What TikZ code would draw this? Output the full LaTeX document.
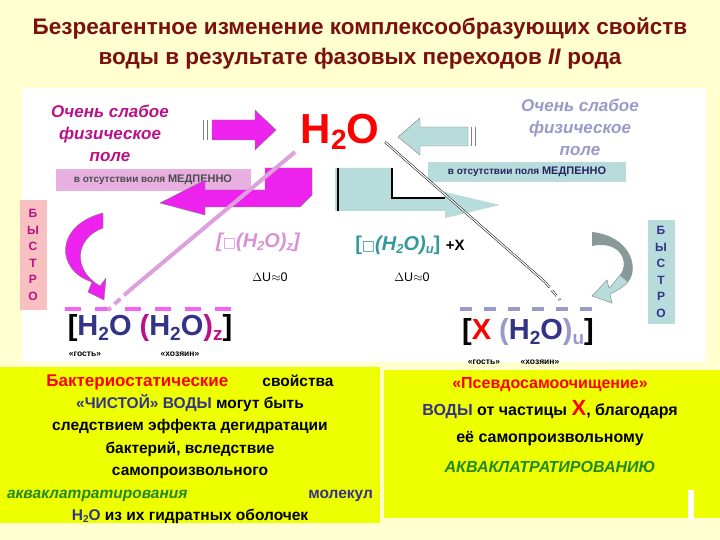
\documentclass[tikz,border=0pt]{standalone}
\usepackage{fontspec}
\setmainfont{Liberation Sans}
\newfontfamily\dejavu{DejaVu Sans}
\usetikzlibrary{arrows.meta}
\definecolor{bgy}{HTML}{FFFFD0}
\definecolor{ttl}{HTML}{7A1010}
\definecolor{mag}{HTML}{EE22EE}
\definecolor{magt}{HTML}{BB1188}
\definecolor{lpur}{HTML}{9999CC}
\definecolor{pinkbox}{HTML}{E8B0E0}
\definecolor{bluebox}{HTML}{B8DCDC}
\definecolor{lblue}{HTML}{B8DCDC}
\definecolor{navy}{HTML}{333388}
\definecolor{teal}{HTML}{339999}
\definecolor{yg}{HTML}{EEFF00}
\definecolor{grn}{HTML}{228822}
\definecolor{lpink}{HTML}{DDA0DD}
\definecolor{bpink}{HTML}{F8C0C0}
\definecolor{gray2}{HTML}{889999}
\newcommand{\sqbox}{{\dejavu\mdseries\upshape\fontsize{14}{14}\selectfont □}}
\begin{document}
\begin{tikzpicture}[x=1pt,y=-1pt,
  lbl/.style={font=\bfseries\fontsize{10}{11}\selectfont,inner sep=2pt},
  fieldtxt/.style={font=\bfseries\itshape\fontsize{17}{22}\selectfont,align=center},
  vert/.style={font=\bfseries\fontsize{12}{16.5}\selectfont,align=center,inner sep=3pt},
  small/.style={font=\bfseries\fontsize{8.5}{9}\selectfont},
  btxt/.style={font=\bfseries\fontsize{15.5}{22.4}\selectfont,align=center}]
\useasboundingbox (0,0) rectangle (720,540);
\fill[bgy] (0,0) rectangle (720,540);
\fill[white] (22,88) rectangle (706,362);
\node[font=\bfseries\fontsize{22.5}{30}\selectfont,text=ttl,align=center] (title) at (360,43)
  {Безреагентное изменение комплексообразующих свойств\\воды в результате фазовых переходов \textit{II} рода};
% field texts
\node[fieldtxt,text=magt] (fl) at (110,133) {Очень слабое\\физическое\\поле};
\node[fieldtxt,text=lpur] (fr) at (580,127) {Очень слабое\\физическое\\поле};
% arrows
\fill[mag,draw=gray] (212,120) -- (255,120) -- (255,110) -- (276,130) -- (255,150) -- (255,140) -- (212,140) -- cycle;
\draw[gray,line width=1pt] (203,120)--(203,140) (207,120)--(207,140);
\fill[lblue,draw=gray] (468,127) -- (420,127) -- (420,118) -- (398,137) -- (420,155) -- (420,146) -- (468,146) -- cycle;
\draw[gray,line width=1pt] (471,127)--(471,146) (475,127)--(475,146);
\node[font=\bfseries\fontsize{42}{42}\selectfont,text=red] (h2o) at (340,132) {H\raisebox{-0.25ex}{\fontsize{28}{28}\selectfont 2}O};
% labels
\node[lbl,fill=pinkbox,text=gray!60!black,minimum width=195pt,minimum height=22pt] (pl) at (153,180) {в отсутствии воля {\fontsize{11}{11}\selectfont МЕДПЕННО}};
\node[lbl,fill=bluebox,text=navy!70!black,minimum width=198pt,minimum height=20pt] (bl) at (527,172) {в отсутствии поля {\fontsize{11}{11}\selectfont МЕДПЕННО}};
% bent magenta arrow
\fill[mag,draw=gray] (312,168) -- (265,168) -- (265,190) -- (205,190) -- (205,180) -- (160,203) -- (205,215) -- (205,207) -- (300,207) -- (312,195) -- cycle;
% bent blue arrow
\fill[lblue] (335,168) -- (392,168) -- (392,198) -- (445,198) -- (445,192) -- (500,205) -- (445,218) -- (445,211) -- (335,211) -- cycle;
\draw[black,line width=1.2pt] (338,168) -- (338,211);
\draw[black,line width=1.2pt] (392,168) -- (392,198) -- (445,198);
% bystro boxes
\node[vert,fill=bpink,text=magt,minimum width=27pt,minimum height=110pt] (b1) at (33,255) {Б\\Ы\\С\\Т\\Р\\О};
\node[vert,fill=lblue,text=navy,minimum width=27pt,minimum height=104pt] (b2) at (661,272) {Б\\Ы\\С\\Т\\Р\\О};
% curved arrows
\fill[mag,draw=gray] (103,213) .. controls (55,225) and (55,270) .. (92,282) -- (88,292) -- (104,300) -- (106,278) -- (100,286) .. controls (72,270) and (75,238) .. (103,228) -- cycle;
\fill[gray2] (592,232) .. controls (630,236) and (640,268) .. (628,282) -- (620,275) .. controls (630,262) and (620,240) .. (592,246) -- cycle;
\fill[lblue,draw=gray] (628,282) .. controls (618,292) and (608,294) .. (610,294) -- (612,303) -- (592,296) -- (607,280) -- (609,288) .. controls (612,286) and (616,280) .. (620,275) -- cycle;
% formulas
\node[font=\bfseries\itshape\fontsize{20}{20}\selectfont,text=lpink!90!magt] (fz) at (258,242) {[\sqbox(H\raisebox{-0.3ex}{\fontsize{13}{13}\selectfont 2}O)\raisebox{-0.3ex}{\fontsize{13}{13}\selectfont z}]};
\node[font=\bfseries\fontsize{20}{20}\selectfont,text=teal] (fu) at (410,245) {[\sqbox\textit{(H\raisebox{-0.3ex}{\fontsize{13}{13}\selectfont 2}O)\raisebox{-0.3ex}{\fontsize{13}{13}\selectfont u}}] {\color{black}\fontsize{15}{15}\selectfont +X}};
\node[font=\fontsize{12.5}{12}\selectfont] (du1) at (270,277) {$\Delta$U$\approx$0};
\node[font=\fontsize{12.5}{12}\selectfont] (du2) at (412,277) {$\Delta$U$\approx$0};
% dashed lines
\coordinate (dl1) at (65,309); \coordinate (dl2) at (240,309);
\draw[mag!70,line width=3.5pt,dash pattern=on 16pt off 14pt] (dl1) -- (dl2);
\coordinate (dr1) at (460,309); \coordinate (dr2) at (595,309);
\draw[lpur,line width=3.5pt,dash pattern=on 12pt off 12pt] (dr1) -- (dr2);
% diagonal lines
\coordinate (d1a) at (295,152); \coordinate (d1b) at (130,290); \coordinate (d1c) at (108,310);
\draw[lpink,line width=4pt] (d1a) -- (d1b);
\draw[lpink,line width=4pt,dash pattern=on 8pt off 5pt] (d1b) -- (d1c);
\coordinate (d2a) at (385,142); \coordinate (d2b) at (545,282); \coordinate (d2c) at (560,300);
\draw[black,double=white,line width=0.5pt,double distance=1.2pt] (d2a) -- (d2b);
\draw[black,double=white,line width=0.5pt,double distance=1.2pt,dash pattern=on 7pt off 4pt] (d2b) -- (d2c);
% big formulas
\node[font=\bfseries\fontsize{29}{29}\selectfont,text=navy] (hl) at (150,328) {{\color{black}[}H\raisebox{-0.3ex}{\fontsize{19}{19}\selectfont 2}O\ {\color{magt}(}H\raisebox{-0.3ex}{\fontsize{19}{19}\selectfont 2}O{\color{magt})\raisebox{-0.3ex}{\fontsize{19}{19}\selectfont z}}{\color{black}]}};
\node[font=\bfseries\fontsize{29}{29}\selectfont,text=navy] (hr) at (528,332) {{\color{black}[}{\color{red}X} {\color{lpur}(}H\raisebox{-0.3ex}{\fontsize{19}{19}\selectfont 2}O{\color{lpur})\raisebox{-0.3ex}{\fontsize{19}{19}\selectfont u}}{\color{black}]}};
\node[small] (g1) at (85,354) {«гость»};
\node[small] (x1) at (180,354) {«хозяин»};
\node[small] (g2) at (484,362) {«гость»};
\node[small] (x2) at (540,362) {«хозяин»};
% bottom boxes
\fill[yg] (0,367) rectangle (380,523);
\fill[yg] (384,370) rectangle (720,518);
\fill[white] (688,490) rectangle (694,520);
\node[btxt,text=black] (tl) at (190,449) {{\color{red}\fontsize{17}{22.4}\selectfont Бактериостатические}\hspace{2.2em}свойства\\
{\color{navy}«ЧИСТОЙ» ВОДЫ} могут быть\\следствием эффекта дегидратации\\бактерий, вследствие\\самопроизвольного\\
\makebox[366pt]{{\color{grn}\itshape акваклатратирования}\hfill\color{navy}молекул}\\
{\color{navy}H\raisebox{-0.3ex}{\fontsize{10}{10}\selectfont 2}O} из их гидратных оболочек};
\node[font=\bfseries\fontsize{16}{27}\selectfont,align=center,text=black] (tr) at (550,425) {{\color{red}«Псевдосамоочищение»}\\
{\color{navy}ВОДЫ} от частицы {\color{red}\fontsize{22}{22}\selectfont X}, благодаря\\её самопроизвольному\\[3pt]{\color{grn}\itshape АКВАКЛАТРАТИРОВАНИЮ}};
\end{tikzpicture}
\end{document}
